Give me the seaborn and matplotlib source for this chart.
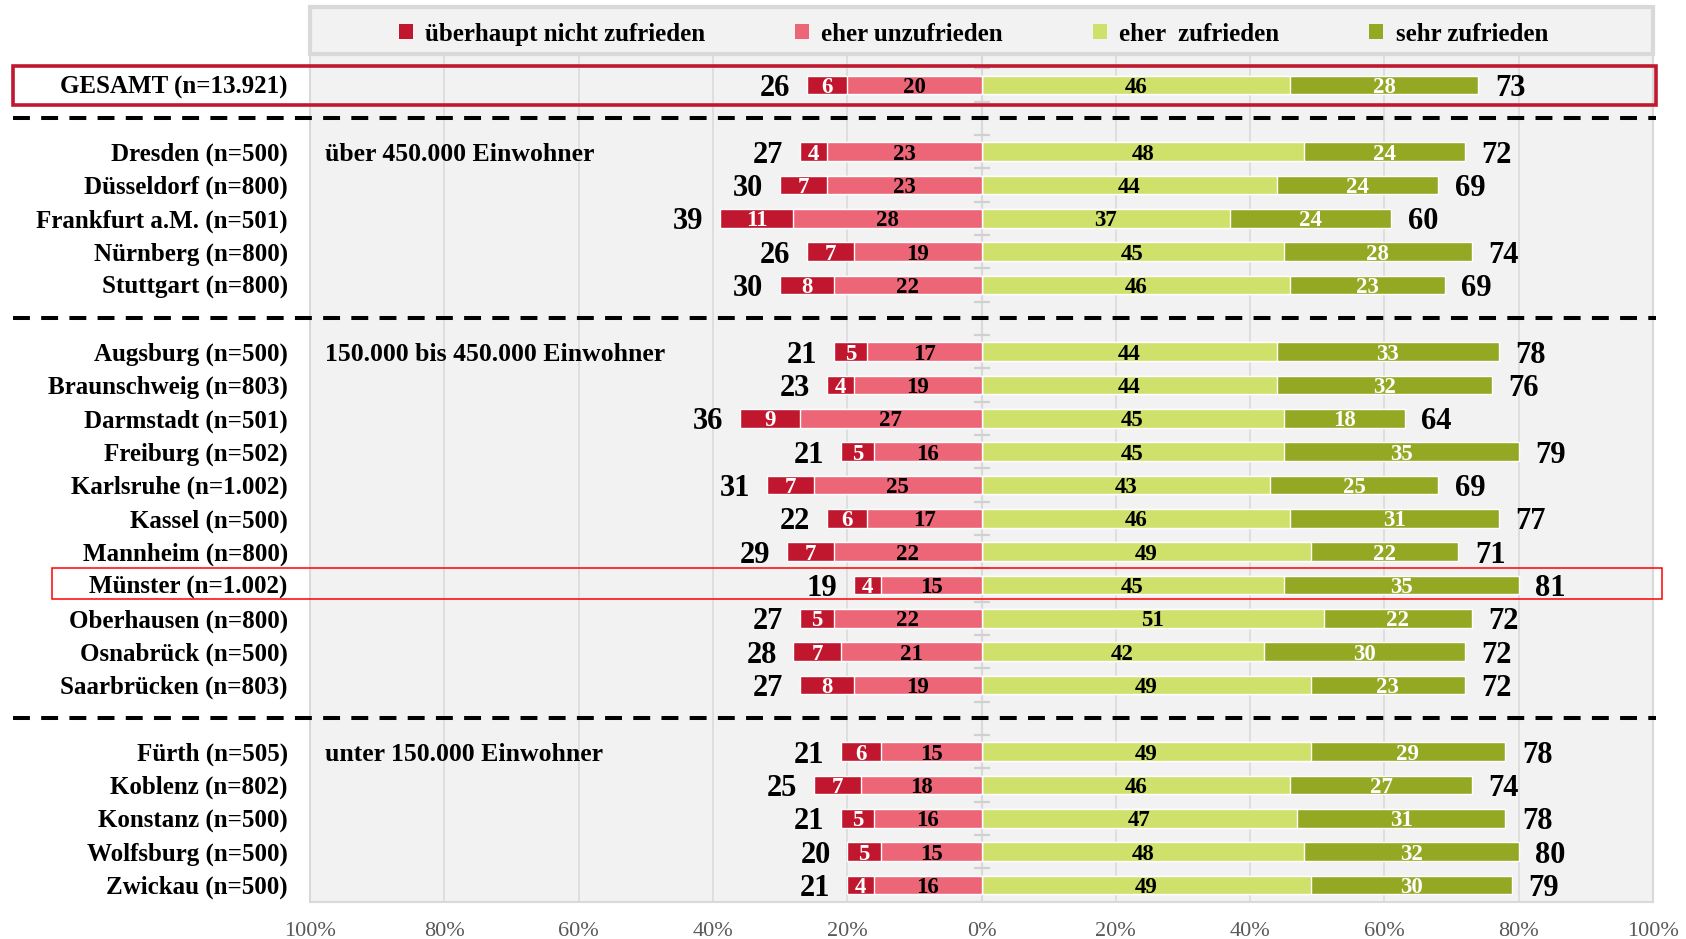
import numpy as np
import pandas as pd
import matplotlib
matplotlib.use("Agg")
import matplotlib.pyplot as plt
import seaborn as sns
from matplotlib.patches import Rectangle, Patch

# ---------------- data ----------------
cities = [
    "GESAMT (n=13.921)",
    "Dresden (n=500)", "Düsseldorf (n=800)", "Frankfurt a.M. (n=501)",
    "Nürnberg (n=800)", "Stuttgart (n=800)",
    "Augsburg (n=500)", "Braunschweig (n=803)", "Darmstadt (n=501)",
    "Freiburg (n=502)", "Karlsruhe (n=1.002)", "Kassel (n=500)",
    "Mannheim (n=800)", "Münster (n=1.002)", "Oberhausen (n=800)",
    "Osnabrück (n=500)", "Saarbrücken (n=803)",
    "Fürth (n=505)", "Koblenz (n=802)", "Konstanz (n=500)",
    "Wolfsburg (n=500)", "Zwickau (n=500)",
]
city_group = [0, 1, 1, 1, 1, 1, 2, 2, 2, 2, 2, 2, 2, 2, 2, 2, 2, 3, 3, 3, 3, 3]
group_labels = {1: "über 450.000 Einwohner",
                2: "150.000 bis 450.000 Einwohner",
                3: "unter 150.000 Einwohner"}

very_unsat   = [6, 4, 7, 11, 7, 8, 5, 4, 9, 5, 7, 6, 7, 4, 5, 7, 8, 6, 7, 5, 5, 4]
rather_unsat = [20, 23, 23, 28, 19, 22, 17, 19, 27, 16, 25, 17, 22, 15, 22, 21, 19, 15, 18, 16, 15, 16]
rather_sat   = [46, 48, 44, 37, 45, 46, 44, 44, 45, 45, 43, 46, 49, 45, 51, 42, 49, 49, 46, 47, 48, 49]
very_sat     = [28, 24, 24, 24, 28, 23, 33, 32, 18, 35, 25, 31, 22, 35, 22, 30, 23, 29, 27, 31, 32, 30]
neg_total    = [26, 27, 30, 39, 26, 30, 21, 23, 36, 21, 31, 22, 29, 19, 27, 28, 27, 21, 25, 21, 20, 21]
pos_total    = [73, 72, 69, 60, 74, 69, 78, 76, 64, 79, 69, 77, 71, 81, 72, 72, 72, 78, 74, 78, 80, 79]

legend_labels = ["überhaupt nicht zufrieden", "eher unzufrieden", "eher  zufrieden", "sehr zufrieden"]
x_ticks = [-100, -80, -60, -40, -20, 0, 20, 40, 60, 80, 100]
highlight_city = "Münster (n=1.002)"

# ---------------- style ----------------
C_DARK, C_PINK, C_LIGHT, C_OLIVE = "#C0172F", "#EC6677", "#CFE06B", "#95A823"
BG, GRID = "#F2F2F2", "#D9D9D9"
FONT = "Liberation Serif"
plt.rcParams["font.family"] = [FONT, "DejaVu Serif"]

df = pd.DataFrame({
    "city": cities, "group": city_group,
    "very_unsat": very_unsat, "rather_unsat": rather_unsat,
    "rather_sat": rather_sat, "very_sat": very_sat,
})
df["pos_cum"] = df["rather_sat"] + df["very_sat"]
df["neg_cum"] = -(df["very_unsat"] + df["rather_unsat"])
df["pink_w"] = -df["rather_unsat"]

# build category order with separator slots between groups
order, seps = [], []
prev = None
for c, g in zip(cities, city_group):
    if prev is not None and g != prev:
        ph = " " * (len(seps) + 1)
        order.append(ph)
        seps.append(ph)
    order.append(c)
    prev = g
pos = {c: i for i, c in enumerate(order)}

fig, ax = plt.subplots(figsize=(16.86, 9.39), dpi=100)
fig.subplots_adjust(left=0.1839, right=0.9804, top=0.99255, bottom=0.0394)
ax.set_facecolor(BG)
ax.set_axisbelow(True)

common = dict(data=df, y="city", order=order, orient="h", width=0.56,
              edgecolor="white", linewidth=1.0, errorbar=None, saturation=1,
              ax=ax, zorder=2)
sns.barplot(x="pos_cum", color=C_OLIVE, **common)
sns.barplot(x="rather_sat", color=C_LIGHT, **common)
sns.barplot(x="neg_cum", color=C_DARK, **common)
sns.barplot(x="pink_w", color=C_PINK, **common)

ax.set_xlim(-100, 100)
ax.set_ylim(24.51, -2.34)
ax.set_xlabel("")
ax.set_ylabel("")

# grid & axes
ax.set_xticks(x_ticks)
ax.set_xticklabels([f"{abs(t)}%" for t in x_ticks])
ax.xaxis.grid(True, color=GRID, lw=1.1)
ax.yaxis.grid(False)
ax.tick_params(axis="x", length=0, pad=14.5, labelsize=16, labelcolor="#595959")
ax.set_yticks(range(len(order)))
ax.set_yticklabels(["" if c in seps else c for c in order],
                   fontsize=18, fontweight="bold")
ax.tick_params(axis="y", length=0, pad=16)
for t in ax.get_yticklabels():
    t.set_verticalalignment("center_baseline")
for s in ax.spines.values():
    s.set_color(GRID)
    s.set_linewidth(1.5)

# centre line with small row ticks
ax.axvline(0, color=GRID, lw=1.5, zorder=1)
bounds = np.arange(-0.5, len(order), 1.0)
ax.plot(np.zeros(len(bounds)), bounds, ls="none", marker="_", ms=11,
        mew=1.6, color="#D0D0D0", zorder=1)

# segment and total labels
lab = dict(ha="center", va="center_baseline", fontsize=16.5, fontweight="bold")
for _, r in df.iterrows():
    k = pos[r["city"]]
    ax.text(-r["rather_unsat"] - r["very_unsat"] / 2, k, str(r["very_unsat"]), color="white", zorder=4, **lab)
    ax.text(-r["rather_unsat"] / 2, k, str(r["rather_unsat"]), color="black", zorder=4, **lab)
    ax.text(r["rather_sat"] / 2, k, str(r["rather_sat"]), color="black", zorder=4, **lab)
    ax.text(r["rather_sat"] + r["very_sat"] / 2, k, str(r["very_sat"]), color="white", zorder=4, **lab)
for c, nt, pt, nc, pc in zip(cities, neg_total, pos_total, df["neg_cum"], df["pos_cum"]):
    k = pos[c]
    ax.annotate(str(nt), xy=(nc, k), xytext=(-12, 0), textcoords="offset points",
                ha="right", va="center_baseline", fontsize=22, fontweight="bold")
    ax.annotate(str(pt), xy=(pc, k), xytext=(12, 0), textcoords="offset points",
                ha="left", va="center_baseline", fontsize=22, fontweight="bold")

# group labels
first_of_group = {}
for c, g in zip(cities, city_group):
    first_of_group.setdefault(g, c)
for g, txt in group_labels.items():
    ax.text(-97.7, pos[first_of_group[g]], txt, ha="left", va="center_baseline",
            fontsize=18.5, fontweight="bold")

# dashed separators
for ph in seps:
    ax.plot([-144.2, 100.5], [pos[ph], pos[ph]], color="black", lw=2.9,
            ls=(0, (4.2, 2.8)), clip_on=False, zorder=3)

# highlight boxes
ax.add_patch(Rectangle((-144.2, -0.56), 244.7, 1.15, fill=False,
                       ec="#C0182F", lw=2.6, clip_on=False, zorder=5))
kh = pos[highlight_city]
ax.add_patch(Rectangle((-138.5, kh - 0.5), 239.8, 0.92, fill=False,
                       ec="#FF0000", lw=1.1, clip_on=False, zorder=5))

# legend box
ax.add_patch(Rectangle((-100, -2.34), 200, 1.41, fc=BG, ec=GRID, lw=3,
                       clip_on=False, zorder=3))
handles = [Patch(facecolor=col, edgecolor="none") for col in (C_DARK, C_PINK, C_LIGHT, C_OLIVE)]
leg = ax.legend(handles, legend_labels, loc="center", bbox_to_anchor=(0.494, 0.9695),
                ncol=4, frameon=False, handlelength=0.55, handleheight=0.55,
                handletextpad=0.5, columnspacing=3.6,
                prop={"family": FONT, "weight": "bold", "size": 18})
leg.set_zorder(6)

fig.savefig("out.png", dpi=100, facecolor="white")
